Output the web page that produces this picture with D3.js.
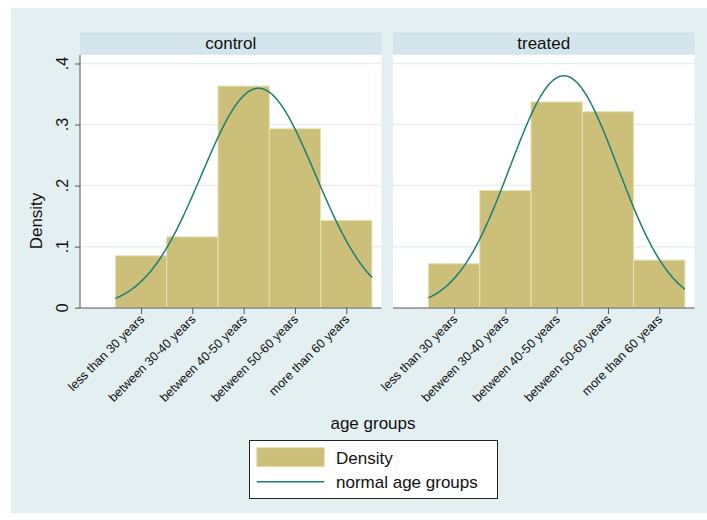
<!DOCTYPE html>
<html>
<head>
<meta charset="utf-8">
<script src="https://cdn.jsdelivr.net/npm/d3@7"></script>
<style>
  body { margin: 0; background: #fff; }
  svg { display: block; font-family: "Liberation Sans", Arial, sans-serif; }
</style>
</head>
<body>
<svg id="chart" width="707" height="520"></svg>
<script>
/* ── Data ────────────────────────────────────────────────── */
const groups      = [1, 2, 3, 4, 5];
const groupLabels = ['less than 30 years', 'between 30-40 years', 'between 40-50 years',
                     'between 50-60 years', 'more than 60 years'];
const panels      = ['control', 'treated'];
const controlDens = [0.085, 0.116, 0.363, 0.293, 0.143];
const treatedDens = [0.072, 0.192, 0.337, 0.321, 0.078];
const normalMean  = [3.29, 3.14];   // fitted normal, per panel
const normalSd    = [1.11, 1.05];
const yTicks      = [0, 0.1, 0.2, 0.3, 0.4];
const yTickLabels = ['0', '.1', '.2', '.3', '.4'];

const densities = [controlDens, treatedDens];

/* ── Styles ─────────────────────────────────────────────── */
const BG      = '#E4EFF1';
const STRIP   = '#D3E5EB';
const GRID    = '#E6EFF2';
const BAR     = '#CBBF7A';
const BAR_EDGE= '#E7E0B4';
const CURVE   = '#1D7F74';
const AXIS    = '#555';

const svg = d3.select('#chart');

svg.append('rect')
  .attr('x', 11).attr('y', 8).attr('width', 696).attr('height', 505)
  .attr('fill', BG);

const panelX = [80, 393];
const panelW = 301.5;
const plotTop = 55, plotBottom = 308;

const y = d3.scaleLinear().domain([0, 0.4]).range([307.7, 63.5]);

panels.forEach((name, i) => {
  const px = panelX[i];
  const x = d3.scaleLinear().domain([0.5, 5.5]).range([px + 35.4, px + 35.4 + 256.5]);
  const g = svg.append('g');

  // strip
  g.append('rect')
    .attr('x', px).attr('y', 32.3).attr('width', panelW).attr('height', 22)
    .attr('fill', STRIP);
  g.append('text')
    .attr('x', px + panelW / 2).attr('y', 49)
    .attr('text-anchor', 'middle').attr('font-size', 17).attr('fill', '#111')
    .text(name);

  // plot region
  g.append('rect')
    .attr('x', px).attr('y', plotTop).attr('width', panelW).attr('height', plotBottom - plotTop)
    .attr('fill', '#fff');

  // gridlines
  g.selectAll('line.grid')
    .data(yTicks.slice(1))
    .enter().append('line')
    .attr('class', 'grid')
    .attr('x1', px).attr('x2', px + panelW)
    .attr('y1', d => y(d)).attr('y2', d => y(d))
    .attr('stroke', GRID).attr('stroke-width', 1.5);

  // bars
  g.selectAll('rect.bar')
    .data(groups)
    .enter().append('rect')
    .attr('class', 'bar')
    .attr('x', d => x(d - 0.5))
    .attr('width', d => x(d + 0.5) - x(d - 0.5))
    .attr('y', (d, j) => y(densities[i][j]))
    .attr('height', (d, j) => y(0) - y(densities[i][j]))
    .attr('fill', BAR)
    .attr('stroke', BAR_EDGE).attr('stroke-width', 1);

  // fitted normal curve
  const m = normalMean[i], s = normalSd[i];
  const pdf = v => Math.exp(-0.5 * ((v - m) / s) ** 2) / (s * Math.sqrt(2 * Math.PI));
  const xs = d3.range(0.5, 5.5001, 0.02);
  g.append('path')
    .attr('d', d3.line().x(v => x(v)).y(v => y(pdf(v)))(xs))
    .attr('fill', 'none').attr('stroke', CURVE).attr('stroke-width', 1.5);

  // x axis
  const xAxis = g.append('g')
    .attr('transform', `translate(0,${plotBottom})`)
    .call(d3.axisBottom(x).tickValues(groups).tickSize(6).tickFormat(''));
  xAxis.select('.domain').attr('d', `M${px},0H${px + panelW}`).attr('stroke', AXIS);
  xAxis.selectAll('.tick line').attr('stroke', AXIS);

  g.selectAll('text.xlab')
    .data(groups)
    .enter().append('text')
    .attr('class', 'xlab')
    .attr('transform', d => `translate(${x(d) + 4},${plotBottom + 12}) rotate(-45)`)
    .attr('text-anchor', 'end').attr('font-size', 12.5).attr('fill', '#111')
    .text((d, j) => groupLabels[j]);

  // y axis on first panel only
  if (i === 0) {
    const yAxis = g.append('g')
      .attr('transform', `translate(${px},0)`)
      .call(d3.axisLeft(y).tickValues(yTicks).tickSize(5).tickFormat(''));
    yAxis.select('.domain').attr('d', `M0,${plotTop}V${plotBottom}`).attr('stroke', AXIS);
    yAxis.selectAll('.tick line').attr('stroke', AXIS);

    g.selectAll('text.ylab')
      .data(yTicks)
      .enter().append('text')
      .attr('class', 'ylab')
      .attr('transform', d => `translate(68,${y(d)}) rotate(-90)`)
      .attr('text-anchor', 'middle').attr('font-size', 16).attr('fill', '#111')
      .text((d, j) => yTickLabels[j]);
  }
});

// axis titles
svg.append('text')
  .attr('transform', 'translate(42,221) rotate(-90)')
  .attr('text-anchor', 'middle').attr('font-size', 17).attr('fill', '#111')
  .text('Density');

svg.append('text')
  .attr('x', 373).attr('y', 429)
  .attr('text-anchor', 'middle').attr('font-size', 17).attr('fill', '#111')
  .text('age groups');

// legend
const lg = svg.append('g');
lg.append('rect')
  .attr('x', 249.5).attr('y', 440.5).attr('width', 248).attr('height', 58)
  .attr('fill', '#fff').attr('stroke', '#222').attr('stroke-width', 1);
lg.append('rect')
  .attr('x', 256.7).attr('y', 447.7).attr('width', 67.6).attr('height', 19)
  .attr('fill', BAR).attr('stroke', BAR_EDGE).attr('stroke-width', 1);
lg.append('line')
  .attr('x1', 256.7).attr('x2', 324.3).attr('y1', 481.7).attr('y2', 481.7)
  .attr('stroke', CURVE).attr('stroke-width', 1.5);
lg.append('text')
  .attr('x', 336).attr('y', 464).attr('font-size', 17).attr('fill', '#111')
  .text('Density');
lg.append('text')
  .attr('x', 336).attr('y', 488).attr('font-size', 17).attr('fill', '#111')
  .text('normal age groups');
</script>
</body>
</html>
